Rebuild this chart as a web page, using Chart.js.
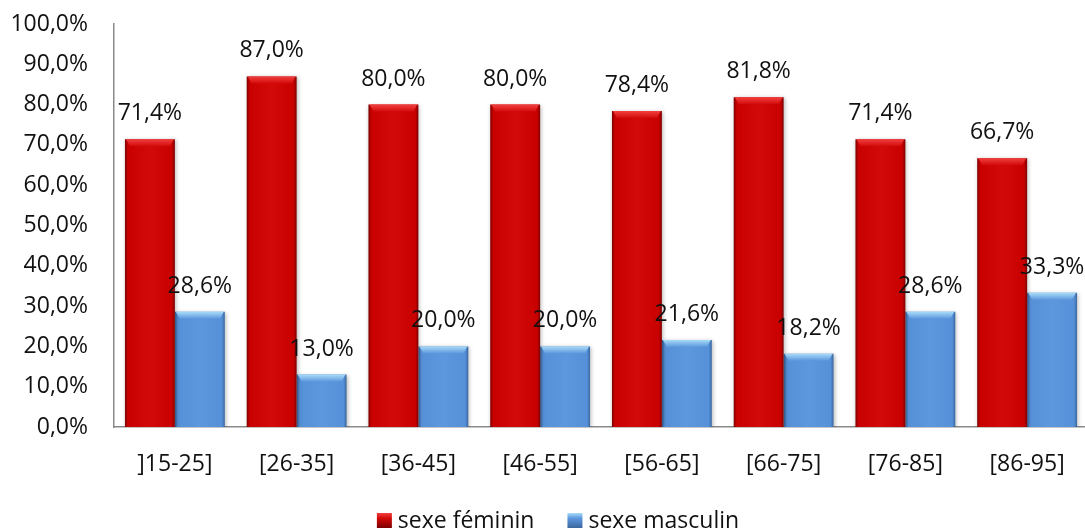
<!DOCTYPE html>
<html>
<head>
<meta charset="utf-8">
<script src="https://cdn.jsdelivr.net/npm/chart.js@4/dist/chart.umd.min.js"></script>
<style>
  html, body { margin: 0; padding: 0; background: #fff; overflow: hidden; }
  #wrap { width: 1092px; height: 529px; }
</style>
</head>
<body>
<div id="wrap"><canvas id="chart" width="1092" height="529"></canvas></div>
<script>
// Age groups and share of each sex (%) per group
const categories = [']15-25]', '[26-35]', '[36-45]', '[46-55]', '[56-65]', '[66-75]', '[76-85]', '[86-95]'];
const femaleValues = [71.4, 87.0, 80.0, 80.0, 78.4, 81.8, 71.4, 66.7];
const maleValues = [28.6, 13.0, 20.0, 20.0, 21.6, 18.2, 28.6, 33.3];
const seriesNames = ['sexe féminin', 'sexe masculin'];

const FONT = '"Open Sans", "Noto Sans", sans-serif';
const CAT_PCT = 0.82;

const palette = [
  { edge: '#7e0000', body: '#c80000', mid: '#d20a0a', top: '#f24040', flat: '#c80000' },
  { edge: '#3a679e', body: '#5590d8', mid: '#5d98de', top: '#a8dcf8', flat: '#5590d8' }
];

const fmt = v => v.toFixed(1).replace('.', ',') + '%';

// Cylinder-like horizontal shading for each bar, positioned from the x scale
function barFill(c) {
  const chart = c.chart;
  const pal = palette[c.datasetIndex];
  const xs = chart.scales && chart.scales.x;
  if (!chart.chartArea || !xs || c.dataIndex === undefined) return pal.flat;
  const center = xs.getPixelForValue(c.dataIndex);
  const catW = xs.width / categories.length;
  const barW = catW * CAT_PCT / 2;
  const left = c.datasetIndex === 0 ? center - barW : center;
  const g = chart.ctx.createLinearGradient(left, 0, left + barW, 0);
  g.addColorStop(0, pal.edge);
  g.addColorStop(0.06, pal.body);
  g.addColorStop(0.5, pal.mid);
  g.addColorStop(0.94, pal.body);
  g.addColorStop(1, pal.edge);
  return g;
}

// Soft shadow under the bars
const barShadow = {
  id: 'barShadow',
  beforeDatasetsDraw(chart) {
    const ctx = chart.ctx;
    ctx.save();
    ctx.shadowColor = 'rgba(0,0,0,0.28)';
    ctx.shadowBlur = 4;
    ctx.shadowOffsetX = 1;
    ctx.shadowOffsetY = 1;
  },
  afterDatasetsDraw(chart) {
    chart.ctx.restore();
  }
};

// Bevelled highlight on top of each bar, then the value labels
const barDecor = {
  id: 'barDecor',
  afterDatasetsDraw(chart) {
    const ctx = chart.ctx;
    ctx.save();
    chart.data.datasets.forEach((ds, di) => {
      const meta = chart.getDatasetMeta(di);
      const pal = palette[di];
      meta.data.forEach((el, i) => {
        const { x, y, width, base } = el.getProps(['x', 'y', 'width', 'base'], true);
        const l = x - width / 2, r = x + width / 2;
        const h = Math.min(7, base - y);
        const inset = 5;
        const g = ctx.createLinearGradient(0, y, 0, y + h);
        g.addColorStop(0, pal.top);
        g.addColorStop(1, pal.mid);
        ctx.fillStyle = g;
        ctx.beginPath();
        ctx.moveTo(l + 1, y);
        ctx.lineTo(r - 1, y);
        ctx.lineTo(r - inset, y + h);
        ctx.lineTo(l + inset, y + h);
        ctx.closePath();
        ctx.fill();
        // value label
        ctx.fillStyle = '#111';
        ctx.font = '23px ' + FONT;
        ctx.textAlign = 'center';
        ctx.textBaseline = 'alphabetic';
        ctx.fillText(fmt(ds.data[i]), x, y - 19);
      });
    });
    ctx.restore();
  }
};

// Legend along the bottom edge: small shaded squares followed by series names
const bottomLegend = {
  id: 'bottomLegend',
  afterDraw(chart) {
    const ctx = chart.ctx;
    const box = 15, gapText = 6, gapItem = 33, centerX = 558, baseY = 528;
    ctx.save();
    ctx.font = '23px ' + FONT;
    ctx.textBaseline = 'alphabetic';
    ctx.textAlign = 'left';
    const widths = chart.data.datasets.map(ds => ctx.measureText(ds.label).width);
    const total = widths.reduce((s, w) => s + box + gapText + w, 0) + gapItem * (widths.length - 1);
    let x = centerX - total / 2;
    chart.data.datasets.forEach((ds, i) => {
      const pal = palette[i];
      const top = baseY - box;
      const g = ctx.createLinearGradient(0, top, 0, top + box);
      g.addColorStop(0, pal.top);
      g.addColorStop(0.35, pal.mid);
      g.addColorStop(1, pal.edge);
      ctx.fillStyle = g;
      ctx.fillRect(x, top, box, box);
      x += box + gapText;
      ctx.fillStyle = '#111';
      ctx.fillText(ds.label, x, baseY);
      x += widths[i] + gapItem;
    });
    ctx.restore();
  }
};

new Chart(document.getElementById('chart'), {
  type: 'bar',
  data: {
    labels: categories,
    datasets: [
      { label: seriesNames[0], data: femaleValues, backgroundColor: barFill, borderWidth: 0 },
      { label: seriesNames[1], data: maleValues, backgroundColor: barFill, borderWidth: 0 }
    ]
  },
  options: {
    responsive: false,
    animation: false,
    events: [],
    devicePixelRatio: 1,
    datasets: { bar: { categoryPercentage: CAT_PCT, barPercentage: 1 } },
    layout: { padding: { top: 24, right: 4, left: 0, bottom: 42 } },
    scales: {
      x: {
        grid: { display: false, drawTicks: false },
        border: { display: true, color: '#8a8a8a', width: 1.5 },
        ticks: { color: '#111', font: { family: FONT, size: 23 }, padding: 24, maxRotation: 0 },
        afterFit(scale) { scale.height = 60; }
      },
      y: {
        min: 0, max: 100,
        grid: { display: false, drawTicks: false },
        border: { display: true, color: '#8a8a8a', width: 1.5 },
        ticks: { stepSize: 10, color: '#111', font: { family: FONT, size: 23 }, padding: 26, callback: v => fmt(v) },
        afterFit(scale) {
          scale.width = 114;
          // only the half-height of the end labels needs room above/below the axis
          scale.paddingTop = 14;
          scale.paddingBottom = 14;
        }
      }
    },
    plugins: {
      tooltip: { enabled: false },
      legend: { display: false }
    }
  },
  plugins: [barShadow, barDecor, bottomLegend]
});
</script>
</body>
</html>
